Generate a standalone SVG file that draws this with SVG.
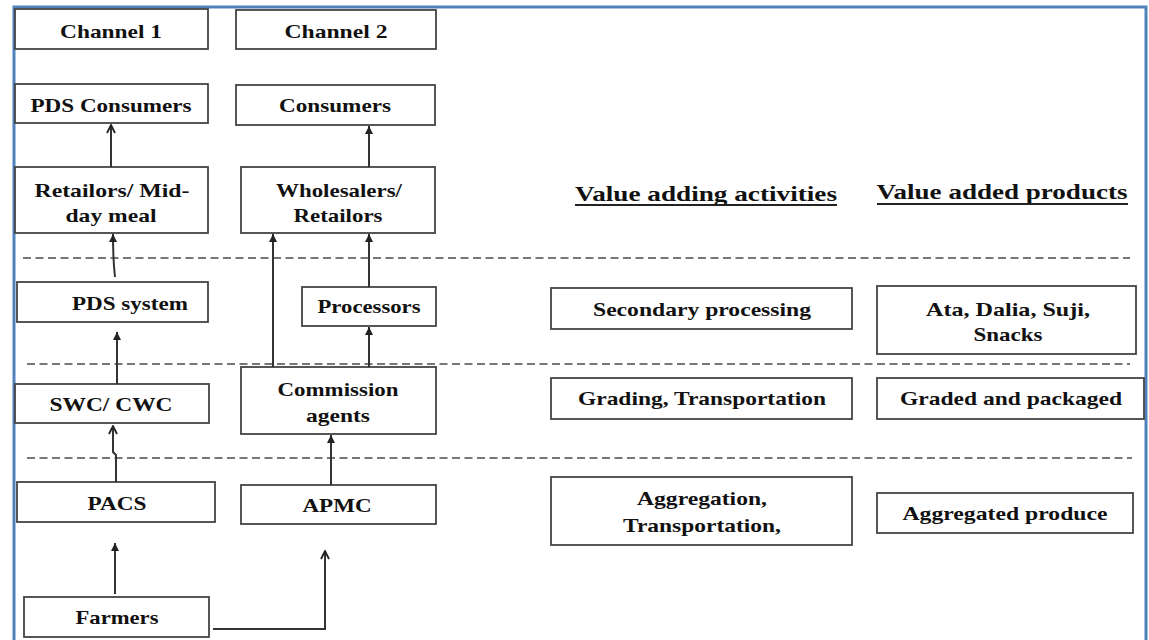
<svg xmlns="http://www.w3.org/2000/svg" width="1149" height="640" viewBox="0 0 1149 640">
<defs>
<style>
.box{fill:#fff;stroke:#444;stroke-width:1.8}
text{font-family:'Liberation Serif','Times New Roman',Times,serif;font-weight:bold;fill:#111;text-anchor:middle}
.t{font-size:19px}
.h{font-size:21px}
.dash{stroke:#777;stroke-width:2;stroke-dasharray:8 4.5;fill:none}
.c{stroke:#333;stroke-width:2;fill:none}
.frame{stroke:#4f81bd;stroke-width:3;fill:none}
</style>
<marker id="af" viewBox="0 0 10 10" refX="10" refY="5" markerWidth="8" markerHeight="8" markerUnits="userSpaceOnUse" orient="auto">
<path d="M0,0 L10,5 L0,10 z" fill="#222"/>
</marker>
<marker id="ao" viewBox="0 0 10 10" refX="9" refY="5" markerWidth="10" markerHeight="10" markerUnits="userSpaceOnUse" orient="auto">
<path d="M1,1 L9,5 L1,9" fill="none" stroke="#222" stroke-width="1.8"/>
</marker>
</defs>
<rect width="1149" height="640" fill="#fff"/>
<path class="frame" d="M14,640 V7 H1146 V640"/>

<g id="separators">
<line class="dash" x1="23" y1="258" x2="1130" y2="258"/>
<line class="dash" x1="27" y1="364" x2="1130" y2="364"/>
<line class="dash" x1="27" y1="458" x2="1132" y2="458"/>
</g>

<g id="ch1"><rect class="box" x="15" y="9" width="193" height="40"/><text class="t" x="111" y="38" textLength="102" lengthAdjust="spacingAndGlyphs">Channel 1</text></g>
<g id="ch2"><rect class="box" x="236" y="10" width="200" height="39"/><text class="t" x="336" y="38" textLength="103" lengthAdjust="spacingAndGlyphs">Channel 2</text></g>
<g id="pdsconsumers"><rect class="box" x="15" y="84" width="193" height="39"/><text class="t" x="111" y="112" textLength="161" lengthAdjust="spacingAndGlyphs">PDS Consumers</text></g>
<g id="consumers"><rect class="box" x="236" y="85" width="199" height="40"/><text class="t" x="335" y="112" textLength="112" lengthAdjust="spacingAndGlyphs">Consumers</text></g>
<g id="retailors"><rect class="box" x="15" y="167" width="193" height="66"/><text class="t" x="112" y="197" textLength="155" lengthAdjust="spacingAndGlyphs">Retailors/ Mid-</text><text class="t" x="111" y="222" textLength="91" lengthAdjust="spacingAndGlyphs">day meal</text></g>
<g id="wholesalers"><rect class="box" x="241" y="167" width="194" height="66"/><text class="t" x="339" y="197" textLength="126" lengthAdjust="spacingAndGlyphs">Wholesalers/</text><text class="t" x="338" y="222" textLength="89" lengthAdjust="spacingAndGlyphs">Retailors</text></g>
<g id="pdssystem"><rect class="box" x="17" y="282" width="191" height="40"/><text class="t" x="130" y="310" textLength="116" lengthAdjust="spacingAndGlyphs">PDS system</text></g>
<g id="processors"><rect class="box" x="302" y="287" width="134" height="39"/><text class="t" x="369" y="313" textLength="103" lengthAdjust="spacingAndGlyphs">Processors</text></g>
<g id="swc"><rect class="box" x="15" y="384" width="194" height="39"/><text class="t" x="111" y="411" textLength="123" lengthAdjust="spacingAndGlyphs">SWC/ CWC</text></g>
<g id="commission"><rect class="box" x="241" y="367" width="195" height="67"/><text class="t" x="338" y="396" textLength="121" lengthAdjust="spacingAndGlyphs">Commission</text><text class="t" x="338" y="422" textLength="64" lengthAdjust="spacingAndGlyphs">agents</text></g>
<g id="pacs"><rect class="box" x="17" y="482" width="198" height="40"/><text class="t" x="117" y="510" textLength="59" lengthAdjust="spacingAndGlyphs">PACS</text></g>
<g id="apmc"><rect class="box" x="241" y="485" width="195" height="39"/><text class="t" x="337" y="512" textLength="69" lengthAdjust="spacingAndGlyphs">APMC</text></g>
<g id="farmers"><rect class="box" x="24" y="597" width="185" height="40"/><text class="t" x="117" y="624" textLength="83" lengthAdjust="spacingAndGlyphs">Farmers</text></g>

<g id="head-activities"><text class="h" x="706" y="201" textLength="262" lengthAdjust="spacingAndGlyphs">Value adding activities</text><line x1="575" y1="205" x2="837" y2="205" stroke="#222" stroke-width="1.8"/></g>
<g id="head-products"><text class="h" x="1002" y="199" textLength="251" lengthAdjust="spacingAndGlyphs">Value added products</text><line x1="877" y1="204" x2="1128" y2="204" stroke="#222" stroke-width="1.8"/></g>
<g id="secondary"><rect class="box" x="551" y="288" width="301" height="41"/><text class="t" x="702" y="316" textLength="218" lengthAdjust="spacingAndGlyphs">Secondary processing</text></g>
<g id="ata"><rect class="box" x="877" y="286" width="259" height="68"/><text class="t" x="1008" y="316" textLength="164" lengthAdjust="spacingAndGlyphs">Ata, Dalia, Suji,</text><text class="t" x="1008" y="341" textLength="69" lengthAdjust="spacingAndGlyphs">Snacks</text></g>
<g id="grading"><rect class="box" x="551" y="378" width="301" height="41"/><text class="t" x="702" y="405" textLength="248" lengthAdjust="spacingAndGlyphs">Grading, Transportation</text></g>
<g id="graded"><rect class="box" x="877" y="378" width="267" height="41"/><text class="t" x="1011" y="405" textLength="222" lengthAdjust="spacingAndGlyphs">Graded and packaged</text></g>
<g id="aggregation"><rect class="box" x="551" y="477" width="301" height="68"/><text class="t" x="702" y="505" textLength="130" lengthAdjust="spacingAndGlyphs">Aggregation,</text><text class="t" x="702" y="532" textLength="158" lengthAdjust="spacingAndGlyphs">Transportation,</text></g>
<g id="aggregated"><rect class="box" x="877" y="493" width="256" height="40"/><text class="t" x="1005" y="520" textLength="205" lengthAdjust="spacingAndGlyphs">Aggregated produce</text></g>

<g id="connectors">
<line class="c" x1="111" y1="167" x2="111" y2="125" marker-end="url(#ao)"/>
<line class="c" x1="369" y1="167" x2="369" y2="126" marker-end="url(#af)"/>
<path class="c" d="M115,277 Q113,260 113,234" marker-end="url(#af)"/>
<line class="c" x1="273" y1="367" x2="273" y2="234" marker-end="url(#af)"/>
<line class="c" x1="369" y1="287" x2="369" y2="234" marker-end="url(#af)"/>
<line class="c" x1="117" y1="384" x2="117" y2="332" marker-end="url(#af)"/>
<line class="c" x1="369" y1="367" x2="369" y2="327" marker-end="url(#af)"/>
<polyline class="c" points="116,482 116,455 113,452 113,426" marker-end="url(#ao)"/>
<line class="c" x1="331" y1="485" x2="331" y2="435" marker-end="url(#af)"/>
<line class="c" x1="115" y1="594" x2="115" y2="543" marker-end="url(#af)"/>
<polyline class="c" points="213,629 325,629 325,551" marker-end="url(#ao)"/>
</g>
</svg>
